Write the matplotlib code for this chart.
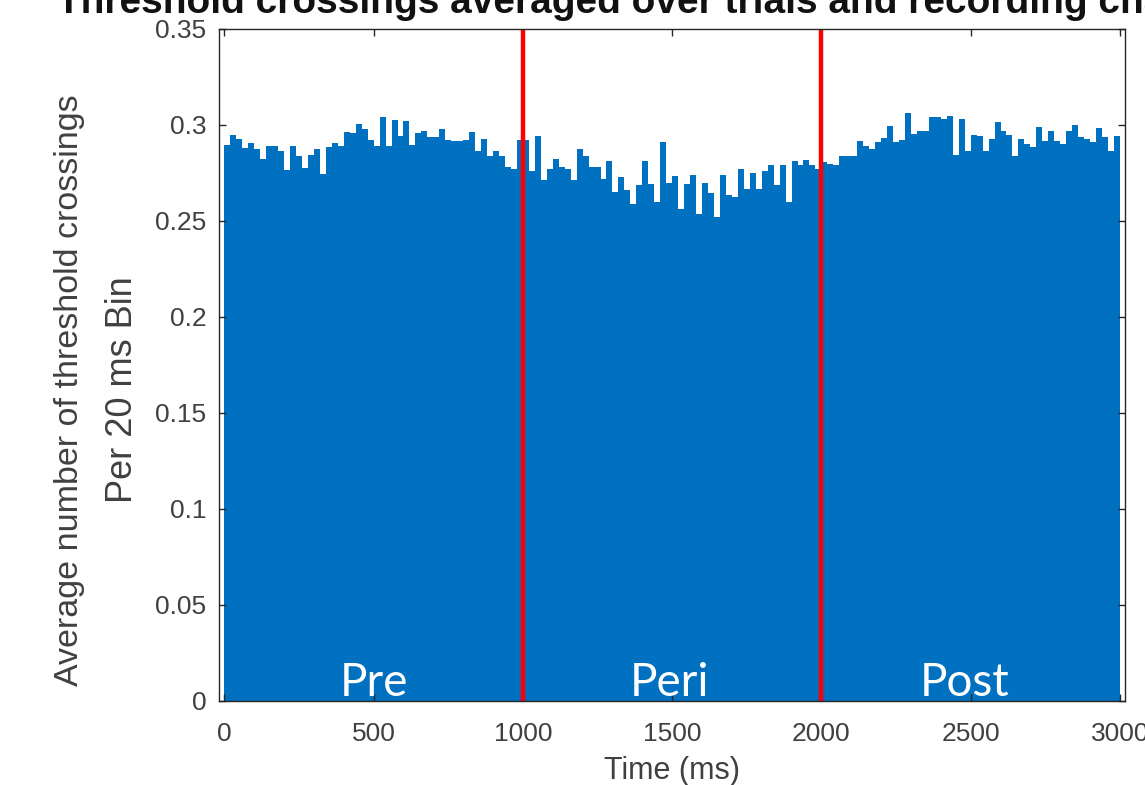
import numpy as np
import matplotlib
matplotlib.use("Agg")
import matplotlib.pyplot as plt

# Average threshold crossings per 20 ms bin, 0-3000 ms (150 bins)
bin_width_ms = 20
crossings = [
    0.2896, 0.2950, 0.2927, 0.2880, 0.2907, 0.2876, 0.2824, 0.2893, 0.2893, 0.2867,
    0.2767, 0.2890, 0.2836, 0.2775, 0.2845, 0.2876, 0.2743, 0.2888, 0.2907, 0.2890,
    0.2965, 0.2957, 0.3005, 0.2980, 0.2922,
    0.2890, 0.3040, 0.2890, 0.3027, 0.2945, 0.3022, 0.2896, 0.2957, 0.2970, 0.2940,
    0.2940, 0.2980, 0.2920, 0.2915, 0.2915, 0.2922, 0.2962, 0.2867, 0.2927, 0.2836,
    0.2867, 0.2840, 0.2780, 0.2772, 0.2920,
    0.2922, 0.2763, 0.2941, 0.2712, 0.2772, 0.2824, 0.2780, 0.2772, 0.2712, 0.2876,
    0.2836, 0.2780, 0.2780, 0.2720, 0.2815, 0.2651, 0.2729, 0.2660, 0.2587, 0.2686,
    0.2815, 0.2691, 0.2600, 0.2914, 0.2698,
    0.2733, 0.2565, 0.2691, 0.2741, 0.2535, 0.2698, 0.2646, 0.2521, 0.2738, 0.2634,
    0.2625, 0.2772, 0.2668, 0.2750, 0.2668, 0.2760, 0.2793, 0.2686, 0.2790, 0.2600,
    0.2810, 0.2790, 0.2819, 0.2790, 0.2772,
    0.2805, 0.2798, 0.2790, 0.2836, 0.2841, 0.2841, 0.2919, 0.2893, 0.2876, 0.2914,
    0.2933, 0.2993, 0.2910, 0.2922, 0.3060, 0.2953, 0.2970, 0.2970, 0.3043, 0.3040,
    0.3031, 0.3048, 0.2846, 0.3031, 0.2867,
    0.2950, 0.2945, 0.2867, 0.2927, 0.3014, 0.2970, 0.2948, 0.2841, 0.2927, 0.2902,
    0.2884, 0.2991, 0.2919, 0.2970, 0.2919, 0.2902, 0.2970, 0.3002, 0.2940, 0.2927,
    0.2910, 0.2982, 0.2936, 0.2867, 0.2945,
]

# Epoch boundaries and labels
boundaries_ms = [1000, 2000]
epoch_names = ["Pre", "Peri", "Post"]
epoch_centers_ms = [500, 1490, 2480]

x_ticks = [0, 500, 1000, 1500, 2000, 2500, 3000]
y_ticks = [0, 0.05, 0.1, 0.15, 0.2, 0.25, 0.3, 0.35]
y_ticklabels = ["0", "0.05", "0.1", "0.15", "0.2", "0.25", "0.3", "0.35"]

bar_color = "#0070C0"
text_gray = "#404040"

W, H = 1145, 785
fig = plt.figure(figsize=(W / 100, H / 100), dpi=100)
ax = fig.add_axes([219 / W, 1 - 701 / H, (1125 - 219) / W, (701 - 29) / H])

left_edges = np.arange(len(crossings)) * bin_width_ms
ax.bar(left_edges, crossings, width=bin_width_ms, align="edge",
       color=bar_color, linewidth=0, zorder=1)

for b in boundaries_ms:
    ax.axvline(b, color="#FF0000", linewidth=3.2, zorder=3)

for name, xc in zip(epoch_names, epoch_centers_ms):
    ax.text(xc, 0.0025, name, color="white", fontsize=33, family="Lato",
            ha="center", va="baseline", zorder=4)

ax.set_xlim(-18, 3017)
ax.set_ylim(0, 0.35)
ax.set_xticks(x_ticks)
ax.set_xticklabels([str(t) for t in x_ticks])
ax.set_yticks(y_ticks)
ax.set_yticklabels(y_ticklabels)

for sp in ax.spines.values():
    sp.set_color("#262626")
    sp.set_linewidth(1.0)
    sp.set_zorder(5)

ax.tick_params(direction="in", length=5, width=1, color="#262626",
               top=True, right=True, labelsize=19, labelcolor=text_gray,
               labelfontfamily="Liberation Sans")
ax.tick_params(axis="x", pad=15)
ax.tick_params(axis="y", pad=9)

ax.set_xlabel("Time (ms)", fontsize=22, color=text_gray,
              family="Liberation Sans", labelpad=7)

fig.text(70 / W, 1 - 390 / H, "Average number of threshold crossings",
         rotation=90, fontsize=24.5, color=text_gray, family="Liberation Sans",
         ha="center", va="center")
fig.text(123 / W, 1 - 390 / H, "Per 20 ms Bin",
         rotation=90, fontsize=26, color=text_gray, family="Liberation Sans",
         ha="center", va="center")

fig.text(57 / W, 1 - 13 / H,
         "Threshold crossings averaged over trials and recording channels",
         fontsize=28, fontweight="bold", color="#111111",
         family="Liberation Sans", ha="left", va="baseline")

fig.savefig("out.png", dpi=100, facecolor="white")
